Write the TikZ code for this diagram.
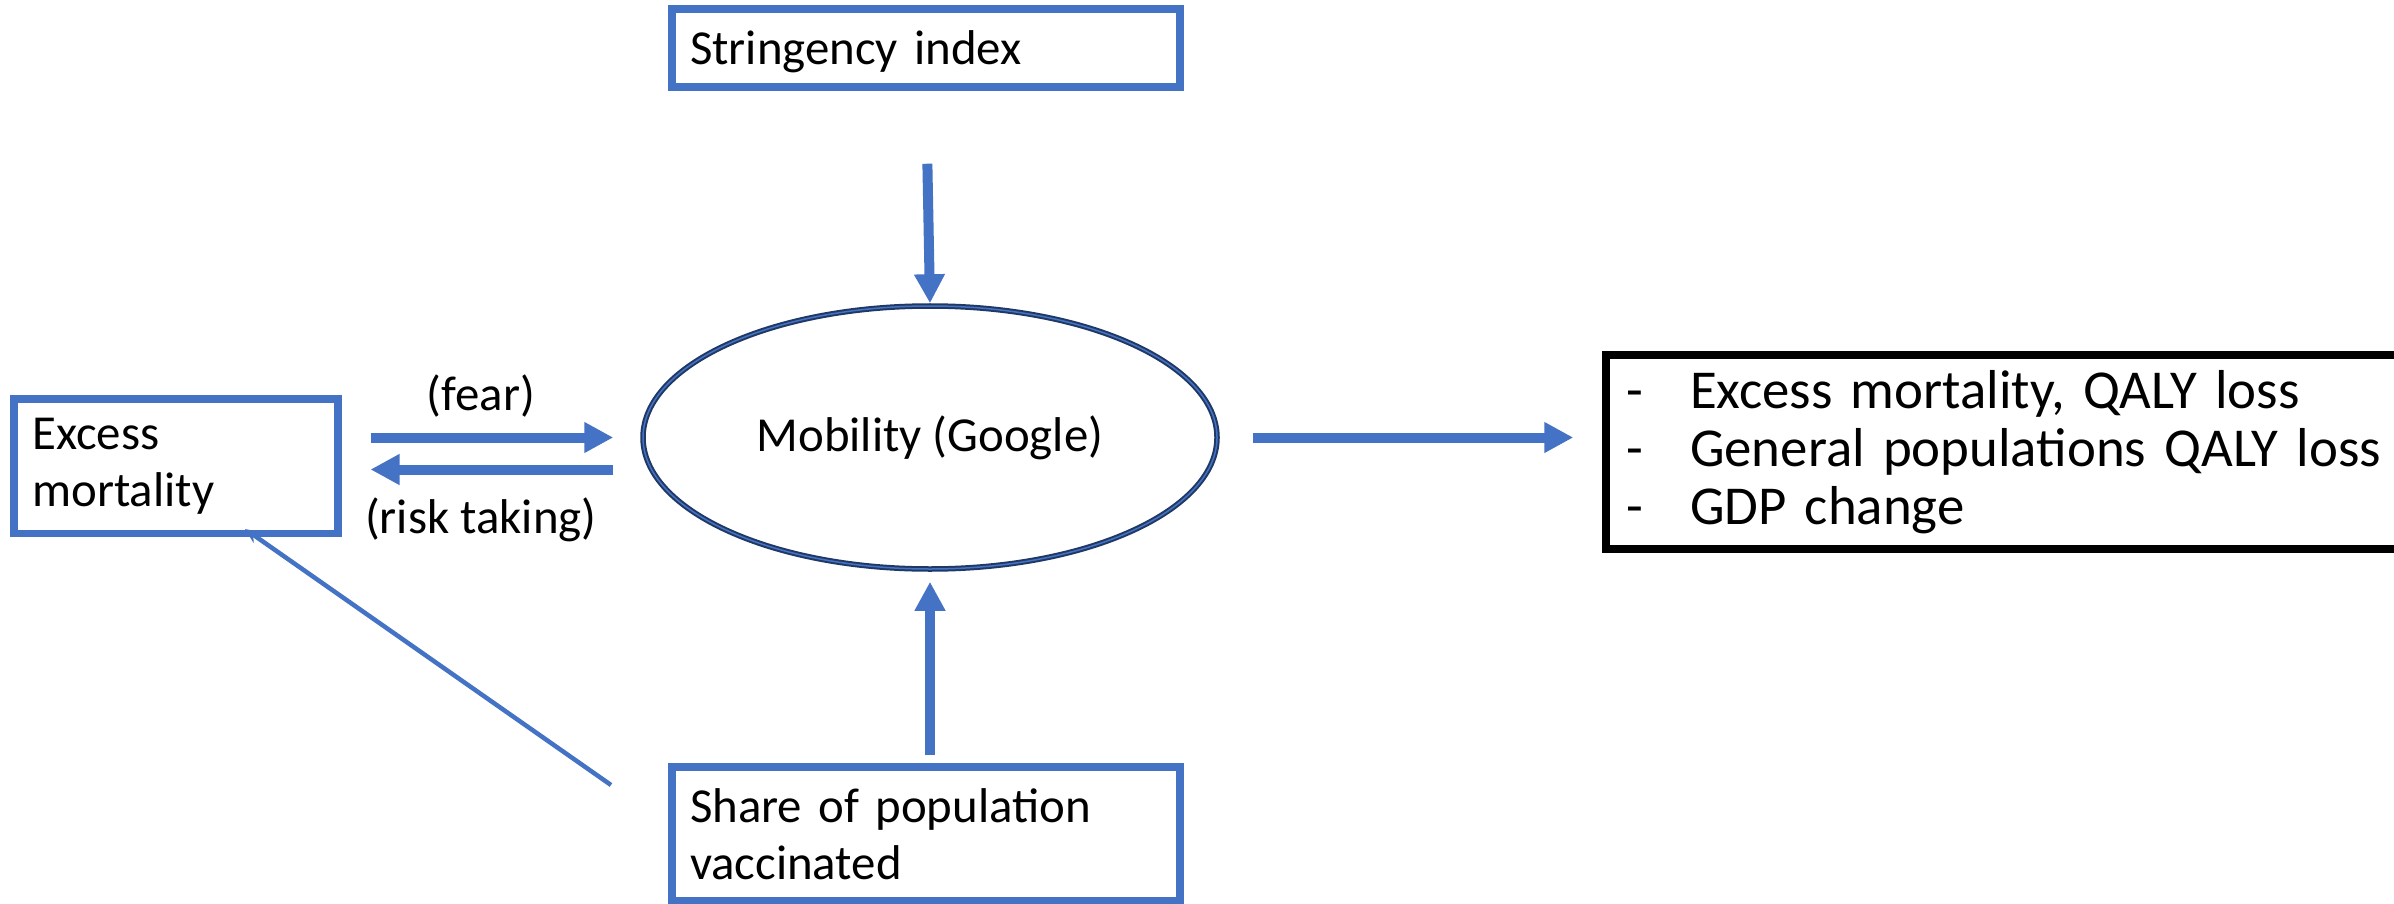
\documentclass[tikz,border=0pt]{standalone}
\usepackage{fontspec}
\setmainfont{Carlito}
\usetikzlibrary{arrows.meta,shapes.geometric,positioning}

\definecolor{boxblue}{HTML}{4472C4}
\definecolor{ringnavy}{HTML}{203864}

\begin{document}
\begin{tikzpicture}[
    every node/.style={font=\fontsize{13.9}{16.2}\selectfont},
    bluebox/.style={draw=boxblue, line width=0.075cm, rectangle, inner xsep=0.18cm, align=left},
    arr/.style={draw=boxblue, line width=0.1cm, -{Triangle[width=0.29cm,length=0.29cm]}},
    thinarr/.style={draw=boxblue, line width=0.045cm, -{Stealth[width=0.13cm,length=0.15cm]}},
    tag/.style={inner sep=0pt}
  ]
  \useasboundingbox (0,0) rectangle (23.94,9.03);
  \clip (0,0) rectangle (23.94,9.03);

  % boxes
  \node [bluebox, minimum width=5.08cm, minimum height=0.78cm, text width=4.72cm, text depth=0pt] (strin) at (9.26,8.55) {Stringency index};
  \node [bluebox, minimum width=3.235cm, minimum height=1.345cm, text width=2.875cm] (exc) at (1.76,4.37) {Excess\\mortality};
  \node [bluebox, minimum width=5.08cm, minimum height=1.34cm, text width=4.72cm] (vacc) at (9.26,0.69) {Share of population\\vaccinated};
  \node [ellipse, draw=ringnavy, line width=0.02cm, double=boxblue, double distance=0.015cm, outer sep=0.0275cm,
         minimum width=5.74cm, minimum height=2.63cm] (mob) at (9.30,4.655) {Mobility (Google)};
  \node [draw=black, line width=0.075cm, minimum width=8.14cm, minimum height=1.94cm, text width=7.74cm,
         inner xsep=0.2cm, align=left, font=\fontsize{15.6}{16.5}\selectfont] (out) at (20.13,4.51)
        {\makebox[0.64cm][l]{-}Excess mortality, QALY loss\\
         \makebox[0.64cm][l]{-}General populations QALY loss\\
         \makebox[0.64cm][l]{-}GDP change};

  % arrows
  \draw [arr, shorten <=0.73cm] (strin.south) -- (mob.north);
  \draw [arr, shorten <=0.08cm, shorten >=0.1cm] (vacc.north -| mob.south) -- (mob.south);
  \draw [arr, shorten <=0.29cm, shorten >=0.27cm] (exc.east |- mob.west) -- node [tag, above=0.15cm, xshift=-0.1cm] {(fear)} (mob.west);
  \coordinate (riskR) at ([yshift=-0.32cm]mob.west);
  \draw [arr, shorten <=0.27cm, shorten >=0.29cm] (riskR) -- node [tag, below=0.23cm, xshift=-0.1cm] {(risk taking)} (riskR -| exc.east);
  \draw [arr, shorten <=0.33cm, shorten >=0.29cm] (mob.east) -- (mob.east -| out.west);
  \coordinate (vline) at (6.11,1.18);
  \draw [thinarr] (vline) -- ([xshift=0.69cm,yshift=0.08cm]exc.south);

\end{tikzpicture}
\end{document}
